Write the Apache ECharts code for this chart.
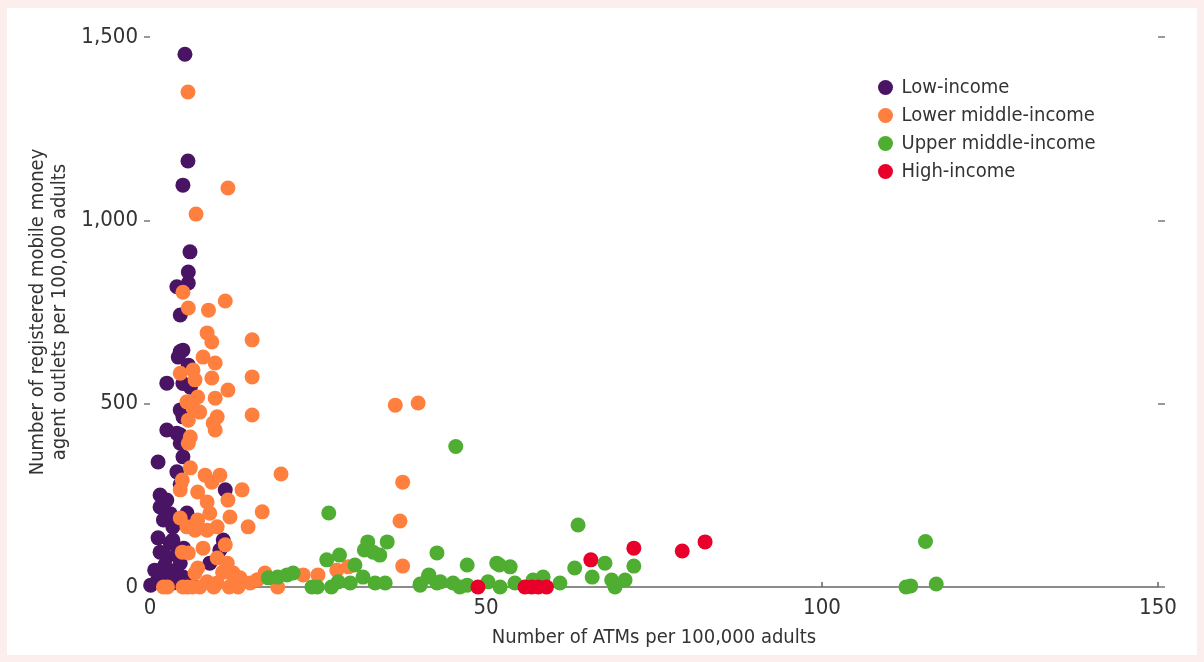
<!DOCTYPE html>
<html>
<head>
<meta charset="utf-8">
<script src="https://cdn.jsdelivr.net/npm/echarts@6/dist/echarts.min.js"></script>
<style>
html,body{margin:0;padding:0;background:#fdeeee;width:1204px;height:662px;overflow:hidden;}
#chart{position:absolute;left:7px;top:8px;width:1190px;height:647px;background:#ffffff;}
</style>
</head>
<body>
<div id="chart"></div>
<script>
const seriesNames = ["Low-income", "Lower middle-income", "Upper middle-income", "High-income"];
const xTicks = [0, 50, 100, 150];
const yTicks = [0, 500, 1000, 1500];

const lowIncome = [
[5.2,1453],[5.65,1162],[4.9,1096],[5.95,914],[5.7,859],[5.7,829],[4.0,819],[4.5,742],[4.9,646],[4.5,642],
[4.2,627],[5.7,605],[2.5,556],[4.9,555],[6.0,545],[4.5,483],[4.9,464],[2.5,428],[4.5,415],[4.0,419],
[4.5,392],[4.9,355],[1.2,341],[4.0,314],[11.2,265],[1.5,251],[2.5,237],[1.5,218],[2.0,183],[5.5,202],
[3.4,164],[1.2,134],[10.9,128],[3.0,120],[3.4,128],[5.0,106],[10.4,101],[2.5,82],[4.5,65],[8.9,65],
[0.7,46],[2.5,27],[4.9,27],[1.0,14],[3.4,11],[0.1,5],[2.0,40],[3.8,45],[1.5,95],[4.0,88],
[3.0,200],[4.5,280],[2.2,60],[6.0,20]
];

const lowerMiddle = [
[5.65,1350],[11.6,1088],[6.85,1017],[4.9,804],[5.7,761],[8.7,755],[11.2,780],[8.5,693],[9.2,668],[15.2,674],
[7.9,627],[9.7,611],[4.5,583],[6.4,592],[6.7,565],[9.2,570],[15.2,573],[11.6,537],[7.1,518],[5.5,505],
[9.7,515],[6.4,488],[7.4,477],[10,464],[15.2,469],[9.4,447],[5.7,455],[9.7,428],[6,409],[5.7,392],
[6,325],[4.8,292],[8.2,305],[10.4,305],[9.2,286],[13.7,265],[4.5,265],[7.1,259],[11.6,237],[8.5,232],
[16.7,205],[11.9,191],[4.5,188],[8.9,201],[7.1,183],[10,164],[14.6,164],[6.7,155],[5.5,164],[8.5,155],
[11.2,115],[7.9,106],[5.7,93],[4.8,95],[10,79],[11.5,65],[7.1,52],[6.7,38],[12.4,38],[13.4,25],
[10,11],[2,0],[2.6,0],[4.9,0],[5.6,0],[7.4,0],[8.5,14],[13.1,0],[14.9,11],[19,0],
[19.5,308],[36.5,496],[39.9,502],[37.6,286],[37.2,180],[37.6,57],[17.1,38],[22.8,33],[25,33],[27.8,46],
[29.5,55],[9.5,0],[11.8,0],[16,20],[6.3,0],[12.5,20],[10.8,40]
];

const upperMiddle = [
[45.5,383],[26.6,202],[63.7,169],[115.4,124],[17.6,25],[19,27],[20.4,33],[21.3,38],[24.1,0],[24.9,0],
[26.3,74],[28.2,87],[27,0],[28,14],[29.8,11],[30.5,60],[31.7,27],[32.4,123],[31.9,101],[33.2,95],
[34.2,87],[35.3,123],[33.5,11],[35,11],[40.2,5],[41.4,27],[42.7,93],[42.7,11],[47.2,60],[51.6,65],
[53.6,55],[52,60],[41.5,33],[40.2,8],[43.2,14],[45.1,11],[46.1,0],[47.2,5],[50.3,14],[52.1,0],
[54.3,11],[57,19],[58.5,27],[61,11],[63.2,52],[65.8,27],[67.7,65],[68.7,19],[69.2,0],[70.7,19],
[72,57],[112.5,0],[113.2,3],[117,8]
];

const highIncome = [
[48.8,0],[55.8,0],[56.8,0],[57.8,0],[59,0],[65.6,74],[72,106],[79.2,98],[82.6,123]
];

const colors = ["#4a1464", "#ff7f3f", "#4fae32", "#e8002a"];
const font = "'DejaVu Sans Condensed','DejaVu Sans',sans-serif";

const chart = echarts.init(document.getElementById('chart'));
const fmt = v => v.toLocaleString('en-US');

chart.setOption({
  animation: false,
  color: colors,
  textStyle: { fontFamily: font },
  grid: { left: 143, top: 29, width: 1008, height: 550, containLabel: false, outerBoundsMode: 'none' },
  legend: {
    orient: 'vertical', left: 866, top: 63,
    itemWidth: 22, itemHeight: 15, itemGap: 5,
    icon: 'circle',
    textStyle: { fontFamily: font, fontSize: 20, color: '#333', lineHeight: 23 },
    data: seriesNames
  },
  xAxis: {
    type: 'value', min: xTicks[0], max: xTicks[xTicks.length-1], interval: 50,
    name: 'Number of ATMs per 100,000 adults', nameLocation: 'middle', nameGap: 41,
    nameTextStyle: { fontFamily: font, fontSize: 20, color: '#333' },
    axisLine: { show: true, lineStyle: { color: '#666', width: 1.5 } },
    axisTick: { show: true, inside: true, length: 5, lineStyle: { color: '#666', width: 1.5 } },
    axisLabel: { fontFamily: font, fontSize: 22, color: '#333', margin: 10, formatter: fmt },
    splitLine: { show: false }
  },
  yAxis: [{
    type: 'value', min: yTicks[0], max: yTicks[yTicks.length-1], interval: 500,
    name: 'Number of registered mobile money\nagent outlets per 100,000 adults',
    nameLocation: 'middle', nameGap: 71, nameRotate: 90,
    nameTextStyle: { fontFamily: font, fontSize: 20, color: '#333', lineHeight: 22 },
    axisLine: { show: false },
    axisTick: { show: true, inside: false, length: 6, lineStyle: { color: '#777', width: 1.5 } },
    axisLabel: { fontFamily: font, fontSize: 22, color: '#333', margin: 12, formatter: fmt },
    splitLine: { show: false }
  }, {
    type: 'value', position: 'right', min: yTicks[0], max: yTicks[yTicks.length-1], interval: 500,
    axisLine: { show: false },
    axisTick: { show: true, inside: false, length: 7, lineStyle: { color: '#777', width: 1.5 } },
    axisLabel: { show: false },
    splitLine: { show: false }
  }],
  series: [
    { name: seriesNames[0], type: 'scatter', symbolSize: 15, data: lowIncome, itemStyle: { opacity: 1 } },
    { name: seriesNames[1], type: 'scatter', symbolSize: 15, data: lowerMiddle, itemStyle: { opacity: 1 } },
    { name: seriesNames[2], type: 'scatter', symbolSize: 15, data: upperMiddle, itemStyle: { opacity: 1 } },
    { name: seriesNames[3], type: 'scatter', symbolSize: 15, data: highIncome, itemStyle: { opacity: 1 } }
  ]
});
</script>
</body>
</html>
